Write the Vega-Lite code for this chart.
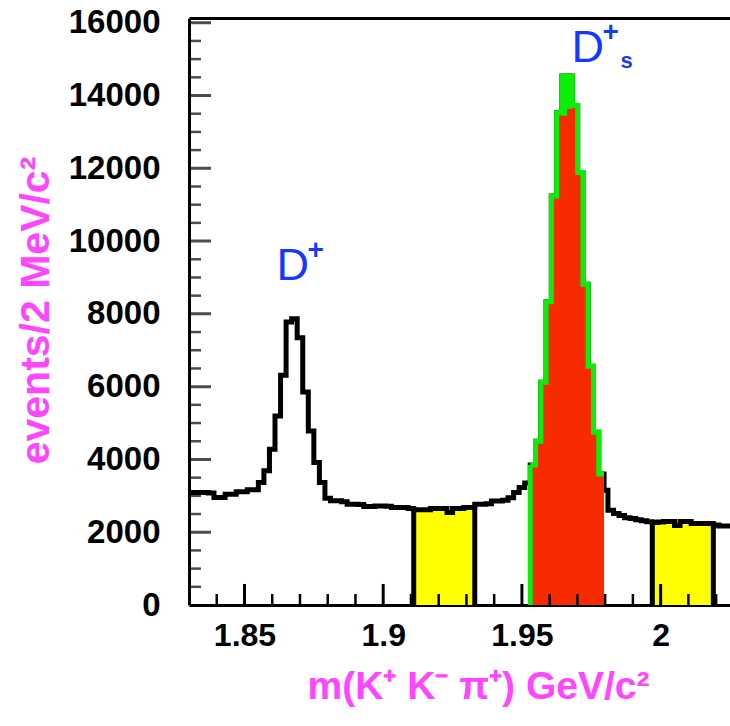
{
  "$schema": "https://vega.github.io/schema/vega-lite/v6.json",
  "width": 541,
  "height": 587,
  "autosize": "none",
  "padding": {"left": 189, "top": 18, "right": 0, "bottom": 121},
  "background": "white",
  "config": {"view": {"stroke": null}, "axis": {"grid": false, "zindex": 1}},
  "resolve": {"axis": {"x": "independent", "y": "independent"}},
  "datasets": {
    "main": [
      {"m": 1.830, "n": 3092}, {"m": 1.831, "n": 3092}, {"m": 1.833, "n": 3092}, {"m": 1.835, "n": 3090},
      {"m": 1.837, "n": 3080}, {"m": 1.839, "n": 2955}, {"m": 1.841, "n": 2955}, {"m": 1.843, "n": 3046},
      {"m": 1.845, "n": 3046}, {"m": 1.847, "n": 3110}, {"m": 1.849, "n": 3110}, {"m": 1.851, "n": 3164},
      {"m": 1.853, "n": 3164}, {"m": 1.855, "n": 3366}, {"m": 1.857, "n": 3686}, {"m": 1.859, "n": 4280},
      {"m": 1.861, "n": 5195}, {"m": 1.863, "n": 6311}, {"m": 1.865, "n": 7775}, {"m": 1.867, "n": 7867},
      {"m": 1.869, "n": 7345}, {"m": 1.871, "n": 5853}, {"m": 1.873, "n": 4784}, {"m": 1.875, "n": 3915},
      {"m": 1.877, "n": 3367}, {"m": 1.879, "n": 2930}, {"m": 1.881, "n": 2862}, {"m": 1.883, "n": 2862},
      {"m": 1.885, "n": 2840}, {"m": 1.887, "n": 2771}, {"m": 1.889, "n": 2771}, {"m": 1.891, "n": 2760},
      {"m": 1.893, "n": 2708}, {"m": 1.895, "n": 2708}, {"m": 1.897, "n": 2720}, {"m": 1.899, "n": 2720},
      {"m": 1.901, "n": 2715}, {"m": 1.903, "n": 2680}, {"m": 1.905, "n": 2680}, {"m": 1.907, "n": 2680},
      {"m": 1.909, "n": 2650}, {"m": 1.911, "n": 2615}, {"m": 1.913, "n": 2615}, {"m": 1.915, "n": 2615},
      {"m": 1.917, "n": 2650}, {"m": 1.919, "n": 2650}, {"m": 1.921, "n": 2650}, {"m": 1.923, "n": 2540},
      {"m": 1.925, "n": 2650}, {"m": 1.927, "n": 2650}, {"m": 1.929, "n": 2680}, {"m": 1.931, "n": 2680},
      {"m": 1.933, "n": 2770}, {"m": 1.935, "n": 2770}, {"m": 1.937, "n": 2780}, {"m": 1.939, "n": 2860},
      {"m": 1.941, "n": 2860}, {"m": 1.943, "n": 2880}, {"m": 1.945, "n": 2950}, {"m": 1.947, "n": 3092},
      {"m": 1.949, "n": 3230}, {"m": 1.951, "n": 3350},
      {"m": 1.9530, "n": 3850}, {"m": 1.9549, "n": 4500}, {"m": 1.9568, "n": 6119}, {"m": 1.9587, "n": 8333},
      {"m": 1.9606, "n": 11242}, {"m": 1.9625, "n": 13528}, {"m": 1.9644, "n": 14534}, {"m": 1.9663, "n": 14534},
      {"m": 1.9682, "n": 13729}, {"m": 1.9701, "n": 11882}, {"m": 1.9720, "n": 8817}, {"m": 1.9739, "n": 6558},
      {"m": 1.9758, "n": 4747}, {"m": 1.9777, "n": 3603}, {"m": 1.9796, "n": 3150},
      {"m": 1.981, "n": 2607}, {"m": 1.983, "n": 2516}, {"m": 1.985, "n": 2460}, {"m": 1.987, "n": 2400},
      {"m": 1.989, "n": 2378}, {"m": 1.991, "n": 2340}, {"m": 1.993, "n": 2314}, {"m": 1.995, "n": 2290},
      {"m": 1.997, "n": 2268}, {"m": 1.999, "n": 2280}, {"m": 2.001, "n": 2295}, {"m": 2.003, "n": 2295},
      {"m": 2.005, "n": 2186}, {"m": 2.007, "n": 2295}, {"m": 2.009, "n": 2295}, {"m": 2.011, "n": 2241},
      {"m": 2.013, "n": 2241}, {"m": 2.015, "n": 2241}, {"m": 2.017, "n": 2241}, {"m": 2.019, "n": 2200},
      {"m": 2.021, "n": 2168}, {"m": 2.023, "n": 2168}, {"m": 2.025, "n": 2168}
    ],
    "side": [
      {"m": 1.911, "n": 2615, "g": "L"}, {"m": 1.913, "n": 2615, "g": "L"}, {"m": 1.915, "n": 2615, "g": "L"},
      {"m": 1.917, "n": 2650, "g": "L"}, {"m": 1.919, "n": 2650, "g": "L"}, {"m": 1.921, "n": 2650, "g": "L"},
      {"m": 1.923, "n": 2540, "g": "L"}, {"m": 1.925, "n": 2650, "g": "L"}, {"m": 1.927, "n": 2650, "g": "L"},
      {"m": 1.929, "n": 2680, "g": "L"}, {"m": 1.931, "n": 2680, "g": "L"}, {"m": 1.933, "n": 2680, "g": "L"},
      {"m": 1.997, "n": 2268, "g": "R"}, {"m": 1.999, "n": 2280, "g": "R"}, {"m": 2.001, "n": 2295, "g": "R"},
      {"m": 2.003, "n": 2295, "g": "R"}, {"m": 2.005, "n": 2186, "g": "R"}, {"m": 2.007, "n": 2295, "g": "R"},
      {"m": 2.009, "n": 2295, "g": "R"}, {"m": 2.011, "n": 2241, "g": "R"}, {"m": 2.013, "n": 2241, "g": "R"},
      {"m": 2.015, "n": 2241, "g": "R"}, {"m": 2.017, "n": 2241, "g": "R"}, {"m": 2.019, "n": 2241, "g": "R"}
    ],
    "sideEdge": [
      {"m": 1.911, "n": 2615}, {"m": 1.933, "n": 2680}, {"m": 1.997, "n": 2268}, {"m": 2.019, "n": 2241}
    ],
    "sig": [
      {"m": 1.9530, "g": 3850, "r": 3850}, {"m": 1.9549, "g": 4500, "r": 4500},
      {"m": 1.9568, "g": 6119, "r": 6119}, {"m": 1.9587, "g": 8333, "r": 8333},
      {"m": 1.9606, "g": 11242, "r": 11242}, {"m": 1.9625, "g": 13528, "r": 13528},
      {"m": 1.9644, "g": 14534, "r": 13446}, {"m": 1.9663, "g": 14534, "r": 13628},
      {"m": 1.9682, "g": 13729, "r": 13729}, {"m": 1.9701, "g": 11882, "r": 11882},
      {"m": 1.9720, "g": 8817, "r": 8817}, {"m": 1.9739, "g": 6558, "r": 6558},
      {"m": 1.9758, "g": 4747, "r": 4747}, {"m": 1.9777, "g": 3603, "r": 3603},
      {"m": 1.9796, "g": 3603, "r": 3603}
    ],
    "labels": [
      {"m": 1.8615, "n": 8931, "t": "D", "sup": "+", "sub": ""},
      {"m": 1.9679, "n": 14921, "t": "D", "sup": "+", "sub": "s"}
    ],
    "xmajor": [{"m": 1.85, "n": 0}, {"m": 1.9, "n": 0}, {"m": 1.95, "n": 0}, {"m": 2.0, "n": 0}],
    "xminor": [
      {"m": 1.84, "n": 0}, {"m": 1.86, "n": 0}, {"m": 1.87, "n": 0}, {"m": 1.88, "n": 0}, {"m": 1.89, "n": 0},
      {"m": 1.91, "n": 0}, {"m": 1.92, "n": 0}, {"m": 1.93, "n": 0}, {"m": 1.94, "n": 0}, {"m": 1.96, "n": 0},
      {"m": 1.97, "n": 0}, {"m": 1.98, "n": 0}, {"m": 1.99, "n": 0}, {"m": 2.01, "n": 0}, {"m": 2.02, "n": 0}
    ],
    "yt": [
      {"n": 500}, {"n": 1000}, {"n": 1500}, {"n": 2000}, {"n": 2500}, {"n": 3000}, {"n": 3500}, {"n": 4000},
      {"n": 4500}, {"n": 5000}, {"n": 5500}, {"n": 6000}, {"n": 6500}, {"n": 7000}, {"n": 7500}, {"n": 8000},
      {"n": 8500}, {"n": 9000}, {"n": 9500}, {"n": 10000}, {"n": 10500}, {"n": 11000}, {"n": 11500}, {"n": 12000},
      {"n": 12500}, {"n": 13000}, {"n": 13500}, {"n": 14000}, {"n": 14500}, {"n": 15000}, {"n": 15500}, {"n": 16000}
    ]
  },
  "layer": [
    {
      "data": {"name": "side"},
      "mark": {"type": "area", "interpolate": "step-after", "color": "#ffff00", "clip": true},
      "encoding": {
        "x": {"field": "m", "type": "quantitative", "scale": {"domain": [1.83, 2.025], "nice": false, "zero": false},
          "axis": {"orient": "bottom", "values": [1.85, 1.9, 1.95, 2.0], "format": "~g", "ticks": false, "tickSize": 0,
            "domain": true, "domainColor": "black", "domainWidth": 3, "labelFlush": false, "labelOverlap": false,
            "labelFont": "Liberation Sans", "labelFontSize": 32, "labelFontWeight": "bold", "labelColor": "black",
            "labelPadding": 15, "labelBaseline": "top",
            "title": "m(K⁺ K⁻ π⁺) GeV/c²", "titleFont": "Liberation Sans", "titleFontSize": 39, "titleFontWeight": "bold",
            "titleColor": "#ff45ff", "titleX": 289, "titleY": 93, "titleBaseline": "alphabetic", "titleAlign": "center"}},
        "y": {"field": "n", "type": "quantitative", "stack": null, "scale": {"domain": [0, 16130], "nice": false, "zero": false},
          "axis": {"orient": "left", "values": [0, 2000, 4000, 6000, 8000, 10000, 12000, 14000, 16000], "format": "d",
            "ticks": false, "tickSize": 0, "domain": true, "domainColor": "black", "domainWidth": 3,
            "labelFlush": false, "labelOverlap": false, "labelFont": "Liberation Sans", "labelFontSize": 33,
            "labelFontWeight": "bold", "labelColor": "black", "labelPadding": 29, "labelBaseline": "middle",
            "title": "events/2 MeV/c²", "titleFont": "Liberation Sans", "titleFontSize": 41, "titleFontWeight": "bold",
            "titleColor": "#ff45ff", "titleX": -141, "titleY": 292, "titleBaseline": "alphabetic", "titleAlign": "center", "titleAngle": 270}},
        "detail": {"field": "g"}
      }
    },
    {
      "data": {"name": "main"},
      "mark": {"type": "line", "interpolate": "step-after", "color": "black", "strokeWidth": 5, "strokeJoin": "miter", "clip": true},
      "encoding": {
        "x": {"field": "m", "type": "quantitative", "scale": {"domain": [1.83, 2.025], "nice": false, "zero": false}, "axis": null},
        "y": {"field": "n", "type": "quantitative", "scale": {"domain": [0, 16130], "nice": false, "zero": false}, "axis": null}
      }
    },
    {
      "data": {"name": "sideEdge"},
      "mark": {"type": "rule", "color": "black", "strokeWidth": 5, "clip": true},
      "encoding": {
        "x": {"field": "m", "type": "quantitative", "scale": {"domain": [1.83, 2.025], "nice": false, "zero": false}, "axis": null},
        "y": {"field": "n", "type": "quantitative", "scale": {"domain": [0, 16130], "nice": false, "zero": false}, "axis": null},
        "y2": {"datum": 0}
      }
    },
    {
      "data": {"name": "sig"},
      "mark": {"type": "area", "interpolate": "step-after", "color": "#0aee0a", "clip": true},
      "encoding": {
        "x": {"field": "m", "type": "quantitative", "scale": {"domain": [1.83, 2.025], "nice": false, "zero": false},
          "axis": {"orient": "top", "ticks": false, "labels": false, "domain": true, "domainColor": "black", "domainWidth": 3, "title": null}},
        "y": {"field": "g", "type": "quantitative", "stack": null, "scale": {"domain": [0, 16130], "nice": false, "zero": false}, "axis": null}
      }
    },
    {
      "data": {"name": "sig"},
      "mark": {"type": "area", "interpolate": "step-after", "color": "#f72a00", "clip": true},
      "encoding": {
        "x": {"field": "m", "type": "quantitative", "scale": {"domain": [1.83, 2.025], "nice": false, "zero": false}, "axis": null},
        "y": {"field": "r", "type": "quantitative", "stack": null, "scale": {"domain": [0, 16130], "nice": false, "zero": false}, "axis": null}
      }
    },
    {
      "data": {"name": "sig"},
      "mark": {"type": "line", "interpolate": "step-after", "color": "#0aee0a", "strokeWidth": 5, "strokeJoin": "miter", "clip": true},
      "encoding": {
        "x": {"field": "m", "type": "quantitative", "scale": {"domain": [1.83, 2.025], "nice": false, "zero": false}, "axis": null},
        "y": {"field": "g", "type": "quantitative", "scale": {"domain": [0, 16130], "nice": false, "zero": false}, "axis": null}
      }
    },
    {
      "data": {"name": "sig"},
      "transform": [{"filter": "datum.m == 1.953"}],
      "mark": {"type": "rule", "color": "#0aee0a", "strokeWidth": 5, "clip": true},
      "encoding": {
        "x": {"field": "m", "type": "quantitative", "scale": {"domain": [1.83, 2.025], "nice": false, "zero": false}, "axis": null},
        "y": {"field": "g", "type": "quantitative", "scale": {"domain": [0, 16130], "nice": false, "zero": false}, "axis": null},
        "y2": {"datum": 0}
      }
    },
    {
      "data": {"name": "xmajor"},
      "mark": {"type": "rule", "color": "black", "strokeWidth": 3, "clip": true},
      "encoding": {
        "x": {"field": "m", "type": "quantitative", "scale": {"domain": [1.83, 2.025], "nice": false, "zero": false}, "axis": null},
        "y": {"field": "n", "type": "quantitative", "scale": {"domain": [0, 16130], "nice": false, "zero": false}, "axis": null},
        "y2": {"datum": 578}
      }
    },
    {
      "data": {"name": "xminor"},
      "mark": {"type": "rule", "color": "black", "strokeWidth": 2.5, "clip": true},
      "encoding": {
        "x": {"field": "m", "type": "quantitative", "scale": {"domain": [1.83, 2.025], "nice": false, "zero": false}, "axis": null},
        "y": {"field": "n", "type": "quantitative", "scale": {"domain": [0, 16130], "nice": false, "zero": false}, "axis": null},
        "y2": {"datum": 303}
      }
    },
    {
      "data": {"name": "yt"},
      "transform": [{"filter": "datum.n % 2000 === 0"}],
      "mark": {"type": "tick", "orient": "horizontal", "color": "black", "size": 44, "thickness": 3, "clip": true},
      "encoding": {
        "x": {"datum": 1.83, "type": "quantitative", "scale": {"domain": [1.83, 2.025], "nice": false, "zero": false}, "axis": null},
        "y": {"field": "n", "type": "quantitative", "scale": {"domain": [0, 16130], "nice": false, "zero": false}, "axis": null}
      }
    },
    {
      "data": {"name": "yt"},
      "transform": [{"filter": "datum.n % 2000 !== 0"}],
      "mark": {"type": "tick", "orient": "horizontal", "color": "black", "size": 24, "thickness": 2.5, "clip": true},
      "encoding": {
        "x": {"datum": 1.83, "type": "quantitative", "scale": {"domain": [1.83, 2.025], "nice": false, "zero": false}, "axis": null},
        "y": {"field": "n", "type": "quantitative", "scale": {"domain": [0, 16130], "nice": false, "zero": false}, "axis": null}
      }
    },
    {
      "data": {"name": "labels"},
      "mark": {"type": "text", "font": "Liberation Sans", "fontSize": 45, "color": "#1538ff", "align": "left", "baseline": "alphabetic"},
      "encoding": {
        "x": {"field": "m", "type": "quantitative", "scale": {"domain": [1.83, 2.025], "nice": false, "zero": false}, "axis": null},
        "y": {"field": "n", "type": "quantitative", "scale": {"domain": [0, 16130], "nice": false, "zero": false}, "axis": null},
        "text": {"field": "t"}
      }
    },
    {
      "data": {"name": "labels"},
      "mark": {"type": "text", "font": "Liberation Sans", "fontSize": 28, "fontWeight": "bold", "color": "#1538ff", "align": "left", "baseline": "alphabetic", "dx": 31, "dy": -21},
      "encoding": {
        "x": {"field": "m", "type": "quantitative", "scale": {"domain": [1.83, 2.025], "nice": false, "zero": false}, "axis": null},
        "y": {"field": "n", "type": "quantitative", "scale": {"domain": [0, 16130], "nice": false, "zero": false}, "axis": null},
        "text": {"field": "sup"}
      }
    },
    {
      "data": {"name": "labels"},
      "mark": {"type": "text", "font": "Liberation Sans", "fontSize": 22, "fontWeight": "bold", "color": "#1538ff", "align": "left", "baseline": "alphabetic", "dx": 49, "dy": 6},
      "encoding": {
        "x": {"field": "m", "type": "quantitative", "scale": {"domain": [1.83, 2.025], "nice": false, "zero": false}, "axis": null},
        "y": {"field": "n", "type": "quantitative", "scale": {"domain": [0, 16130], "nice": false, "zero": false}, "axis": null},
        "text": {"field": "sub"}
      }
    }
  ]
}
